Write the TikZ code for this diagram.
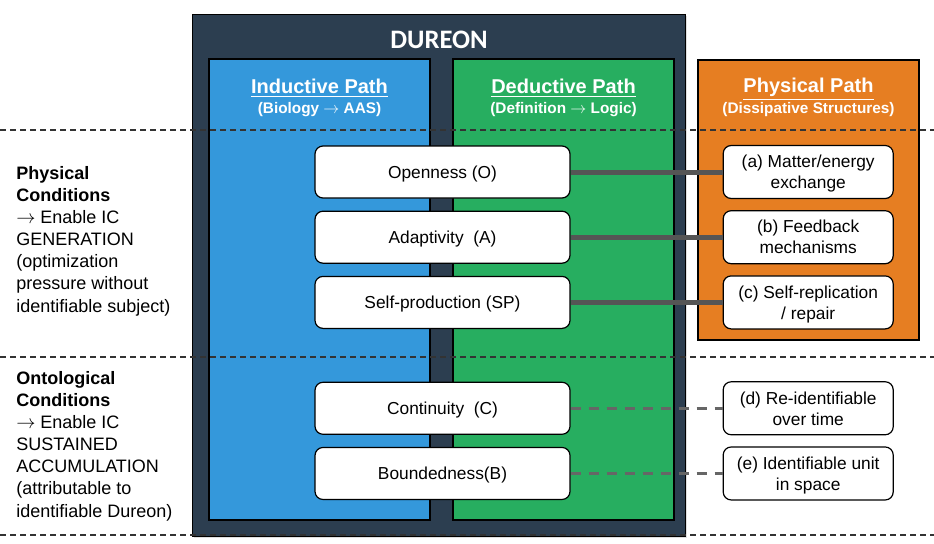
\documentclass[tikz,border=0pt]{standalone}
\usepackage{fontspec}
\setmainfont{Liberation Sans}
\newfontfamily\titlefont{Carlito}
\usetikzlibrary{positioning,shadows}

\definecolor{dureonbg}{HTML}{2C3E50}
\definecolor{inductblue}{HTML}{3498DB}
\definecolor{deductgreen}{HTML}{27AE60}
\definecolor{physorange}{HTML}{E67E22}
\definecolor{linkgray}{HTML}{555555}
\definecolor{weakgray}{HTML}{666666}

\newcommand{\toarr}{$\rightarrow$}

\begin{document}
\begin{tikzpicture}[
  x=0.75pt, y=-0.75pt,
  cond/.style={rectangle, draw=black, line width=0.9pt, rounded corners=6pt, fill=white, minimum width=191.25pt, minimum height=39pt, text depth=0pt, font=\fontsize{13}{15.75}\selectfont},
  physbox/.style={cond, minimum width=127.5pt, minimum height=39.75pt, align=center, inner sep=2pt},
  link/.style={draw=linkgray, line width=3.75pt},
  weak/.style={draw=weakgray, line width=2.25pt, dash pattern=on 7.5pt off 6pt},
  sep/.style={draw=black!80, line width=0.8pt, dash pattern=on 4.5pt off 3pt},
  head/.style={text=white, font=\bfseries\fontsize{15}{18}\selectfont},
  subhead/.style={text=white, font=\bfseries\fontsize{11.5}{14}\selectfont},
  side/.style={align=left, anchor=north west, inner sep=0pt, font=\fontsize{13.5}{16.6}\selectfont}
]
\useasboundingbox (0,0) rectangle (934,543);

% containers
\draw[black, fill=dureonbg, drop shadow={opacity=0.25, shadow xshift=1.5pt, shadow yshift=-1.5pt}] (192,14) rectangle (685,536);
\draw[black, line width=0.8pt, fill=inductblue] (209,59) rectangle (430,520);
\draw[black, line width=0.8pt, fill=deductgreen] (453,59) rectangle (674,520);
\draw[black, line width=0.8pt, fill=physorange] (698,60) rectangle (919,340);

\node[text=white, font=\titlefont\bfseries\fontsize{20}{24}\selectfont] (title) at (439,40) {DUREON};

\node[head] (inductive) at (319.5,88) {\underline{Inductive Path}};
\node[subhead] (inductsub) at (319.5,110) {(Biology \toarr{} AAS)};
\node[head] (deductive) at (563.5,88) {\underline{Deductive Path}};
\node[subhead] (deductsub) at (563.5,110) {(Definition \toarr{} Logic)};
\node[head] (physical) at (808.5,89) {\underline{Physical Path}};
\node[subhead] (physsub) at (808.5,110) {(Dissipative Structures)};

% separators
\draw[sep] (0,130) -- (934,130);
\draw[sep] (0,357) -- (934,357);
\draw[sep] (0,535) -- (934,535);

% side labels
\node[side] (physcond) at (16,166) {\textbf{Physical}\\\textbf{Conditions}\\\toarr{} Enable IC\\GENERATION\\(optimization\\pressure without\\identifiable subject)};
\node[side] (ontocond) at (16,371) {\textbf{Ontological}\\\textbf{Conditions}\\\toarr{} Enable IC\\SUSTAINED\\ACCUMULATION\\(attributable to\\identifiable Dureon)};

% conditions
\node[cond] (open) at (442.5,172) {Openness (O)};
\node[cond, below=9pt of open] (adapt) {Adaptivity~~(A)};
\node[cond, below=9pt of adapt] (selfprod) {Self-production (SP)};
\node[cond, below=39.5pt of selfprod] (contin) {Continuity~~(C)};
\node[cond, below=9pt of contin] (bound) {Boundedness(B)};

% physical counterparts
\node[physbox, right=114pt of open] (matter) {(a) Matter/energy\\exchange};
\node[physbox, right=114pt of adapt] (feedback) {(b) Feedback\\mechanisms};
\node[physbox, right=114pt of selfprod] (replic) {(c) Self-replication\\/ repair};
\node[physbox, right=114pt of contin] (reident) {(d) Re-identifiable\\over time};
\node[physbox, right=114pt of bound] (unit) {(e) Identifiable unit\\in space};

\draw[link] (open.east) -- (open.east -| matter.west);
\draw[link] (adapt.east) -- (adapt.east -| feedback.west);
\draw[link] (selfprod.east) -- (selfprod.east -| replic.west);
\draw[weak] (contin.east) -- (contin.east -| reident.west);
\draw[weak] (bound.east) -- (bound.east -| unit.west);
\end{tikzpicture}
\end{document}
